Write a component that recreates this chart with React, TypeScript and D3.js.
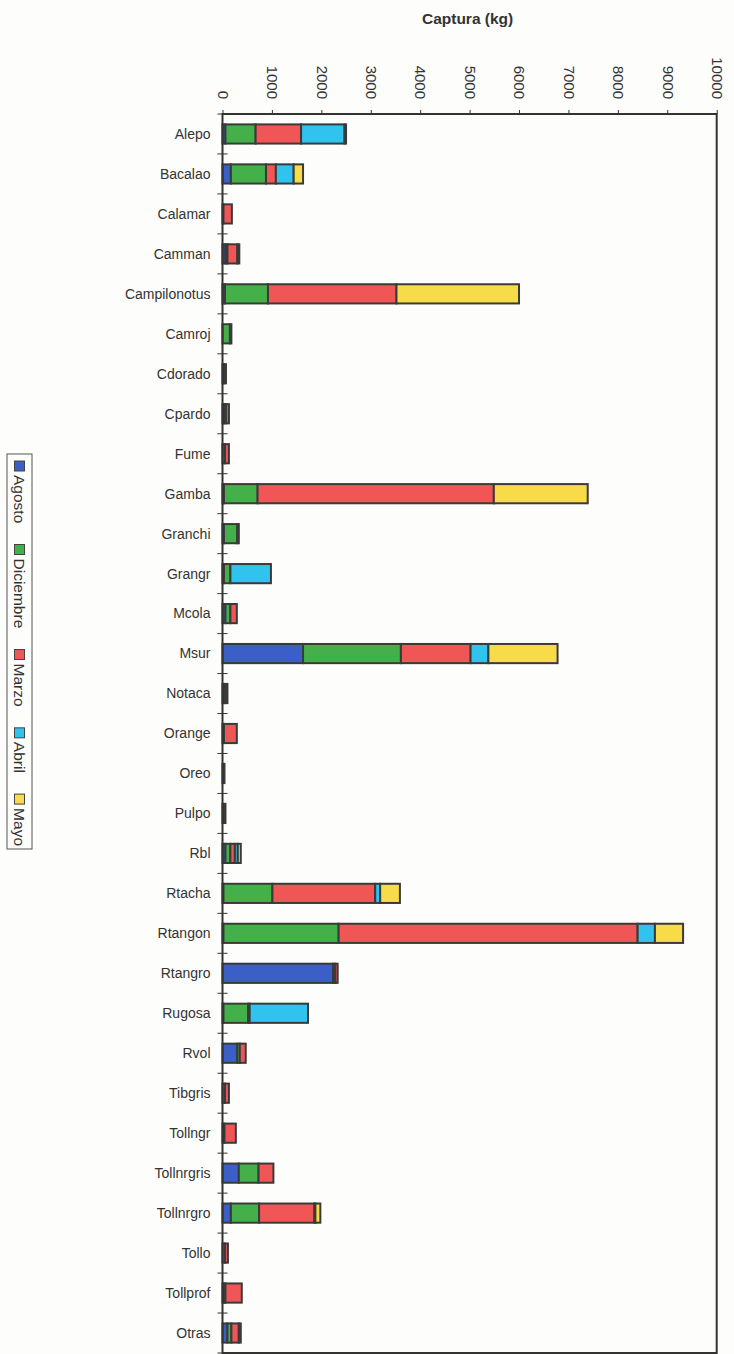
import React, { useRef, useEffect } from 'react';
import * as d3 from 'd3';

const categories = [
  'Alepo', 'Bacalao', 'Calamar', 'Camman', 'Campilonotus', 'Camroj', 'Cdorado', 'Cpardo',
  'Fume', 'Gamba', 'Granchi', 'Grangr', 'Mcola', 'Msur', 'Notaca', 'Orange', 'Oreo', 'Pulpo',
  'Rbl', 'Rtacha', 'Rtangon', 'Rtangro', 'Rugosa', 'Rvol', 'Tibgris', 'Tollngr', 'Tollnrgris',
  'Tollnrgro', 'Tollo', 'Tollprof', 'Otras',
];

const months = ['Agosto', 'Diciembre', 'Marzo', 'Abril', 'Mayo'];

// kg per month, same order as categories
const agosto = [60, 170, 0, 60, 50, 0, 0, 30, 0, 30, 30, 30, 60, 1630, 20, 0, 0, 0, 60, 20, 20, 2240, 20, 300, 0, 0, 330, 170, 0, 30, 100];
const diciembre = [610, 710, 20, 40, 870, 150, 30, 40, 50, 680, 270, 130, 100, 1980, 40, 30, 20, 20, 100, 990, 2330, 40, 500, 50, 50, 40, 400, 570, 50, 30, 80];
const marzo = [920, 200, 170, 200, 2600, 30, 40, 60, 80, 4780, 30, 0, 130, 1410, 40, 260, 20, 40, 90, 2080, 6050, 50, 30, 120, 80, 230, 300, 1120, 60, 330, 150];
const abril = [880, 360, 0, 0, 0, 0, 0, 0, 0, 0, 0, 820, 0, 360, 0, 0, 0, 0, 60, 100, 350, 0, 1180, 0, 0, 0, 0, 20, 0, 0, 40];
const mayo = [30, 190, 0, 40, 2480, 0, 0, 0, 0, 1900, 0, 0, 0, 1400, 0, 0, 0, 0, 60, 400, 570, 0, 0, 0, 0, 0, 0, 100, 0, 0, 0];

const xTicks = [0, 1000, 2000, 3000, 4000, 5000, 6000, 7000, 8000, 9000, 10000];

const monthColors = ['#3b5fc6', '#43b04a', '#f05656', '#2fc3ee', '#f7db48'];

const FONT = '"Liberation Sans", Arial, sans-serif';
const INK = '#333';

const W = 734;
const H = 1354;

const App: React.FC = () => {
  const svgRef = useRef<SVGSVGElement>(null);

  useEffect(() => {
    if (!svgRef.current) return;
    const svg = d3.select(svgRef.current);
    svg.selectAll('*').remove();

    const left = 222.5, right = 716.7, top = 114, bottom = 1353;

    svg.append('rect').attr('width', W).attr('height', H).attr('fill', '#fdfdfb');

    const series = [agosto, diciembre, marzo, abril, mayo];
    const rows = categories.map((c, i) => {
      const r: any = { cat: c };
      months.forEach((m, j) => { r[m] = series[j][i]; });
      return r;
    });
    const stacked = d3.stack<any>().keys(months)(rows);

    const x = d3.scaleLinear().domain([0, 10000]).range([left, right]);
    const y = d3.scaleBand().domain(categories).range([top, bottom]).paddingInner(0.52).paddingOuter(0.26);
    const color = d3.scaleOrdinal<string, string>().domain(months).range(monthColors);

    // Title
    svg.append('text')
      .attr('x', (left + right) / 2 - 2).attr('y', 24)
      .attr('text-anchor', 'middle').attr('font-family', FONT)
      .attr('font-size', 15.5).attr('font-weight', 'bold').attr('fill', INK)
      .text('Captura (kg)');

    // Top axis with rotated labels
    const axis = svg.append('g')
      .attr('transform', `translate(0,${top})`)
      .call(d3.axisTop(x).tickValues(xTicks).tickSize(4).tickFormat(d3.format('d')));
    axis.select('.domain').remove();
    axis.selectAll('line').attr('stroke', INK).attr('stroke-width', 1);
    axis.selectAll('text')
      .attr('x', 0).attr('y', 0).attr('dy', '0.35em')
      .attr('text-anchor', 'end')
      .attr('transform', 'translate(0,-15) rotate(90)')
      .attr('font-family', FONT).attr('font-size', 15).attr('fill', INK);

    // Category ticks on the left axis (band boundaries)
    const step = y.step();
    svg.append('g').selectAll('line')
      .data(d3.range(categories.length + 1))
      .enter().append('line')
      .attr('x1', left - 5).attr('x2', left + 5)
      .attr('y1', (k) => top + k * step).attr('y2', (k) => top + k * step)
      .attr('stroke', INK).attr('stroke-width', 1);

    // Category labels
    svg.append('g').selectAll('text')
      .data(categories)
      .enter().append('text')
      .attr('x', left - 12)
      .attr('y', (d) => (y(d) || 0) + y.bandwidth() / 2)
      .attr('dy', '0.35em')
      .attr('text-anchor', 'end')
      .attr('font-family', FONT).attr('font-size', 14).attr('fill', INK)
      .text((d) => d);

    // Bars
    const layer = svg.append('g');
    stacked.forEach((s) => {
      layer.append('g').selectAll('rect')
        .data(s.filter((d) => d[1] - d[0] > 0))
        .enter().append('rect')
        .attr('x', (d) => x(d[0]))
        .attr('width', (d) => x(d[1]) - x(d[0]))
        .attr('y', (d) => y(d.data.cat) || 0)
        .attr('height', y.bandwidth())
        .attr('fill', color(s.key))
        .attr('stroke', '#3a3a3a')
        .attr('stroke-width', 2);
    });

    // Plot frame
    svg.append('rect')
      .attr('x', left).attr('y', top)
      .attr('width', right - left).attr('height', bottom - top)
      .attr('fill', 'none').attr('stroke', INK).attr('stroke-width', 2);

    // Legend (rotated, vertical box on the left)
    const lx = 7, ly = 454, lw = 25, lh = 395;
    svg.append('rect')
      .attr('x', lx).attr('y', ly).attr('width', lw).attr('height', lh)
      .attr('fill', 'none').attr('stroke', '#555').attr('stroke-width', 1);

    const legend = svg.append('g');
    const labels = months.map((m) =>
      legend.append('text')
        .attr('font-family', FONT).attr('font-size', 15.5).attr('fill', INK)
        .attr('text-anchor', 'start').attr('dy', '0.35em')
        .text(m)
    );
    const widths = labels.map((t) => (t.node() as SVGTextElement).getComputedTextLength());
    const sw = 10, sg = 4;
    const start = ly + 7, end = ly + lh - 3;
    const used = d3.sum(widths) + months.length * (sw + sg);
    const gap = (end - start - used) / (months.length - 1);
    const cx = lx + lw / 2;
    let pos = start;
    months.forEach((m, i) => {
      legend.append('rect')
        .attr('x', cx - sw / 2).attr('y', pos)
        .attr('width', sw).attr('height', sw)
        .attr('fill', color(m)).attr('stroke', '#444').attr('stroke-width', 1);
      pos += sw + sg;
      labels[i].attr('transform', `translate(${cx},${pos}) rotate(90)`);
      pos += widths[i] + gap;
    });
  }, []);

  return (
    <svg ref={svgRef} width={W} height={H}
      style={{ position: 'absolute', left: 0, top: 0, display: 'block' }} />
  );
};

export default App;
